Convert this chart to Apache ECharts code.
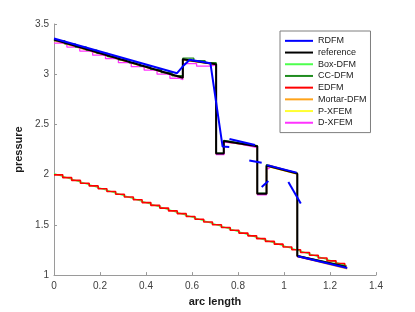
<!DOCTYPE html>
<html><head><meta charset="utf-8">
<script src="https://cdn.jsdelivr.net/npm/echarts@6/dist/echarts.min.js"></script>
<style>html,body{margin:0;padding:0;background:#fff}#c{width:415px;height:312px}</style>
</head><body><div id="c"></div>
<script>
// tick labels
const xTickLabels = ['0','0.2','0.4','0.6','0.8','1','1.2','1.4'];
const yTickLabels = ['1','1.5','2','2.5','3','3.5'];

// reference (black)
const refX = [0,0.56,0.56,0.705,0.705,0.738,0.738,0.884,0.884,0.924,0.924,1.058,1.058,1.27];
const refY = [3.345,2.965,3.15,3.10,2.21,2.21,2.335,2.283,1.81,1.81,2.09,2.01,1.19,1.08];

// RDFM (blue), null = gap
const rdfmX = [0,0.535,0.565,0.59,0.68,0.733,0.762,null,0.763,0.874,null,0.849,0.903,null,0.903,0.932,null,0.925,1.055,null,1.019,1.073,null,1.06,1.275];
const rdfmY = [3.355,3.01,3.09,3.145,3.11,2.28,2.275,null,2.355,2.296,null,2.14,2.118,null,1.878,1.937,null,2.095,2.02,null,1.927,1.713,null,1.187,1.071];

// D-XFEM (magenta)
const dxX = [0,0.056,0.056,0.112,0.112,0.168,0.168,0.224,0.224,0.28,0.28,0.336,0.336,0.392,0.392,0.448,0.448,0.504,0.504,0.545,0.545,0.56,0.56,0.62,0.62,0.675,0.675,0.705,0.705,0.74,0.74,0.80,0.884,0.884,0.924,0.924,0.935,0.935,1.058,1.058,1.27];
const dxY = [3.31,3.31,3.27,3.27,3.23,3.23,3.19,3.19,3.155,3.155,3.115,3.115,3.075,3.075,3.04,3.04,3.0,3.0,2.96,2.96,2.945,2.945,3.105,3.105,3.08,3.08,3.09,3.09,2.2,2.2,2.325,2.31,2.27,1.80,1.80,2.06,2.06,2.095,2.015,1.185,1.075];

// CC-DFM (dark green)
const ccX = [0,0.047,0.047,0.093,0.093,0.14,0.14,0.187,0.187,0.233,0.233,0.28,0.28,0.327,0.327,0.373,0.373,0.42,0.42,0.467,0.467,0.513,0.513,0.56,0.56,0.608,0.608,0.657,0.657,0.705,0.705,0.738,0.738,0.884,0.884,0.924,0.924,1.058,1.058,1.27];
const ccY = [3.334,3.334,3.302,3.302,3.271,3.271,3.239,3.239,3.207,3.207,3.175,3.175,3.144,3.144,3.112,3.112,3.08,3.08,3.049,3.049,3.017,3.017,2.985,2.985,3.16,3.16,3.135,3.135,3.115,3.115,2.215,2.215,2.34,2.288,1.815,1.815,2.1,2.015,1.195,1.09];

// P-XFEM (yellow)
const pxX = [0,0.56,0.56,0.705,0.705,0.738,0.738,0.884,0.884,0.924,0.924,1.058,1.058,1.27];
const pxY = [3.34,2.96,3.145,3.095,2.205,2.205,2.33,2.28,1.805,1.805,2.085,2.005,1.185,1.075];

// Mortar-DFM (orange)
const mtX = [0,0.56,0.56,0.705,0.705,0.738,0.738,0.884,0.884,0.924,0.924,1.058,1.058,1.275];
const mtY = [3.335,2.96,3.14,3.095,2.205,2.205,2.33,2.28,1.805,1.805,2.085,2.005,1.185,1.063];

// EDFM (red) lower staircase: cell edges and cell values
const edfmEdges = [0,0.038,0.077,0.115,0.153,0.192,0.230,0.268,0.306,0.345,0.383,0.421,0.460,0.498,0.536,0.575,0.613,0.651,0.689,0.728,0.766,0.804,0.843,0.881,0.919,0.958,0.996,1.034,1.072,1.111,1.149,1.187,1.226,1.264,1.272];
const edfmVals = [1.998,1.970,1.943,1.915,1.888,1.860,1.832,1.805,1.777,1.750,1.722,1.694,1.667,1.639,1.612,1.584,1.556,1.529,1.501,1.474,1.446,1.418,1.391,1.363,1.336,1.308,1.280,1.253,1.225,1.198,1.170,1.142,1.115,1.087];

// Box-DFM (light green) lower
const boxX = [0,1.272];
const boxY = [2.01,1.095];

const pts = (xs, ys) => xs.map((x, i) => [x, ys[i]]);
function segs(xs, ys) {
  const out = []; let cur = [];
  xs.forEach((x, i) => {
    if (x === null) { if (cur.length) out.push(cur); cur = []; }
    else cur.push([x, ys[i]]);
  });
  if (cur.length) out.push(cur);
  return out;
}
function stairs(edges, vals) {
  const d = [];
  vals.forEach((v, i) => { d.push([edges[i], v]); d.push([edges[i + 1], v]); });
  return d;
}
function mk(name, color, width, data) {
  return { type: 'line', name, data, symbol: 'none', showSymbol: false, silent: true,
    lineStyle: { color, width }, itemStyle: { color }, animation: false };
}

const C = { rdfm: '#0000ff', ref: '#000000', box: '#4dff4d', cc: '#1f8c1f', edfm: '#ff0000',
  mortar: '#ffa31a', px: '#ffff33', dx: '#ff33ff' };

const series = [];
series.push(mk('Box-DFM', C.box, 1.3, pts(boxX, boxY)));
series.push(mk('EDFM', C.edfm, 1.6, stairs(edfmEdges, edfmVals)));
series.push(mk('P-XFEM', C.px, 1.3, pts(pxX, pxY)));
series.push(mk('Mortar-DFM', C.mortar, 1.3, pts(mtX, mtY)));
series.push(mk('D-XFEM', C.dx, 1.3, pts(dxX, dxY)));
series.push(mk('CC-DFM', C.cc, 1.3, pts(ccX, ccY)));
series.push(mk('reference', C.ref, 2, pts(refX, refY)));
segs(rdfmX, rdfmY).forEach(s => series.push(mk('RDFM', C.rdfm, 2, s)));

const font = 'Liberation Sans, Arial, Helvetica, sans-serif';
const chart = echarts.init(document.getElementById('c'), null, { renderer: 'canvas' });
chart.setOption({
  animation: false,
  backgroundColor: '#fff',
  textStyle: { fontFamily: font },
  grid: { left: 54, right: 39, top: 24, bottom: 35, containLabel: false },
  legend: {
    data: ['RDFM','reference','Box-DFM','CC-DFM','EDFM','Mortar-DFM','P-XFEM','D-XFEM'],
    orient: 'vertical', left: 280, top: 31,
    icon: 'rect', itemWidth: 28, itemHeight: 2, itemGap: 0,
    padding: [4, 4, 4, 5],
    borderColor: '#7f7f7f', borderWidth: 1, backgroundColor: '#fff',
    textStyle: { fontFamily: font, fontSize: 9, color: '#1a1a1a', lineHeight: 11.7, height: 11.7 },
    selectedMode: false
  },
  xAxis: {
    type: 'value', min: parseFloat(xTickLabels[0]), max: parseFloat(xTickLabels[xTickLabels.length - 1]),
    interval: 0.2,
    name: 'arc length', nameLocation: 'middle', nameGap: 19,
    nameTextStyle: { fontFamily: font, fontSize: 11, fontWeight: 'bold', color: '#1a1a1a' },
    axisLine: { show: true, lineStyle: { color: '#9a9a9a', width: 1 } },
    axisTick: { show: true, inside: true, length: 3, lineStyle: { color: '#9a9a9a' } },
    axisLabel: { fontFamily: font, fontSize: 10, color: '#404040', margin: 6,
      formatter: v => { const i = Math.round(v / 0.2); return xTickLabels[i] !== undefined ? xTickLabels[i] : ''; } },
    splitLine: { show: false }
  },
  yAxis: {
    type: 'value', min: parseFloat(yTickLabels[0]), max: parseFloat(yTickLabels[yTickLabels.length - 1]),
    interval: 0.5,
    name: 'pressure', nameLocation: 'middle', nameGap: 20,
    nameTextStyle: { fontFamily: font, fontSize: 11, fontWeight: 'bold', color: '#1a1a1a' },
    axisLine: { show: true, lineStyle: { color: '#9a9a9a', width: 1 } },
    axisTick: { show: true, inside: true, length: 3, lineStyle: { color: '#9a9a9a' } },
    axisLabel: { fontFamily: font, fontSize: 10, color: '#404040', margin: 5,
      formatter: v => { const i = Math.round((v - 1) / 0.5); return yTickLabels[i] !== undefined ? yTickLabels[i] : ''; } },
    splitLine: { show: false }
  },
  series
});
</script>
</body></html>
